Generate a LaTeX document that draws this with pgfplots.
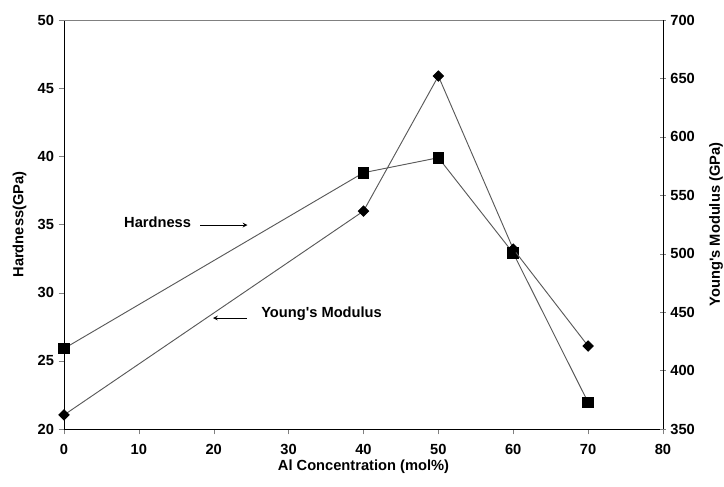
\documentclass[border=0pt]{standalone}
\usepackage{pgfplots}
\pgfplotsset{compat=1.18}
\usepackage{fontspec}
\setmainfont{Liberation Sans}
\begin{document}
\begin{tikzpicture}[x=1pt,y=1pt]
\pgfplotsset{
  common/.style={
    scale only axis, width=449.25pt, height=306.75pt,
    at={(0pt,0pt)}, anchor=south west,
    xmin=0, xmax=80,
    /pgf/number format/assume math mode=true,
    tick label style={font=\bfseries\fontsize{11}{13}\selectfont},
    label style={font=\bfseries\fontsize{11}{13}\selectfont},
    axis line style={line width=0.7pt},
    major tick length=4pt,
  },
}
\path[use as bounding box] (-48pt,-42.75pt) rectangle (495pt,321.75pt);
\begin{axis}[common,
  axis x line*=bottom, axis y line*=left,
  ymin=20, ymax=50, ytick={20,25,...,50},
  xtick={0,10,...,80},
  tick align=outside,
  xlabel={Al Concentration (mol\%)},
  ylabel={Hardness(GPa)},
  ylabel style={yshift=1.5pt},
  xticklabel style={yshift=-4pt},
  xlabel style={yshift=3pt},
]
\addplot[color=black!65, line width=0.7pt, mark=square*, mark size=4pt, mark options={black, solid}]
  coordinates {(0,25.9) (40,38.8) (50,39.9) (60,32.9) (70,21.95)};
\draw[black!50, line width=0.6pt] (axis cs:0,50) -- (axis cs:80,50);
\node[font=\bfseries\fontsize{11}{13}\selectfont] at (axis cs:12.5,35.18) {Hardness};
\draw[-stealth, line width=0.6pt] (axis cs:18.2,34.96) -- (axis cs:24.5,34.96);
\node[font=\bfseries\fontsize{11}{13}\selectfont] at (axis cs:34.4,28.43) {Young\textquotesingle s Modulus};
\draw[-stealth, line width=0.6pt] (axis cs:24.4,28.14) -- (axis cs:19.9,28.14);
\end{axis}
\begin{axis}[common,
  axis x line=none, axis y line*=right,
  ymin=350, ymax=700, ytick={350,400,...,700},
  tick align=center,
  ylabel={Young\textquotesingle s Modulus (GPa)},
  ylabel style={yshift=-4pt},
]
\addplot[color=black!65, line width=0.7pt, mark=square*, mark size=2.7pt, mark options={black, solid, rotate=45}]
  coordinates {(0,362) (40,536.5) (50,652) (60,504) (70,421)};
\end{axis}
\end{tikzpicture}
\end{document}
